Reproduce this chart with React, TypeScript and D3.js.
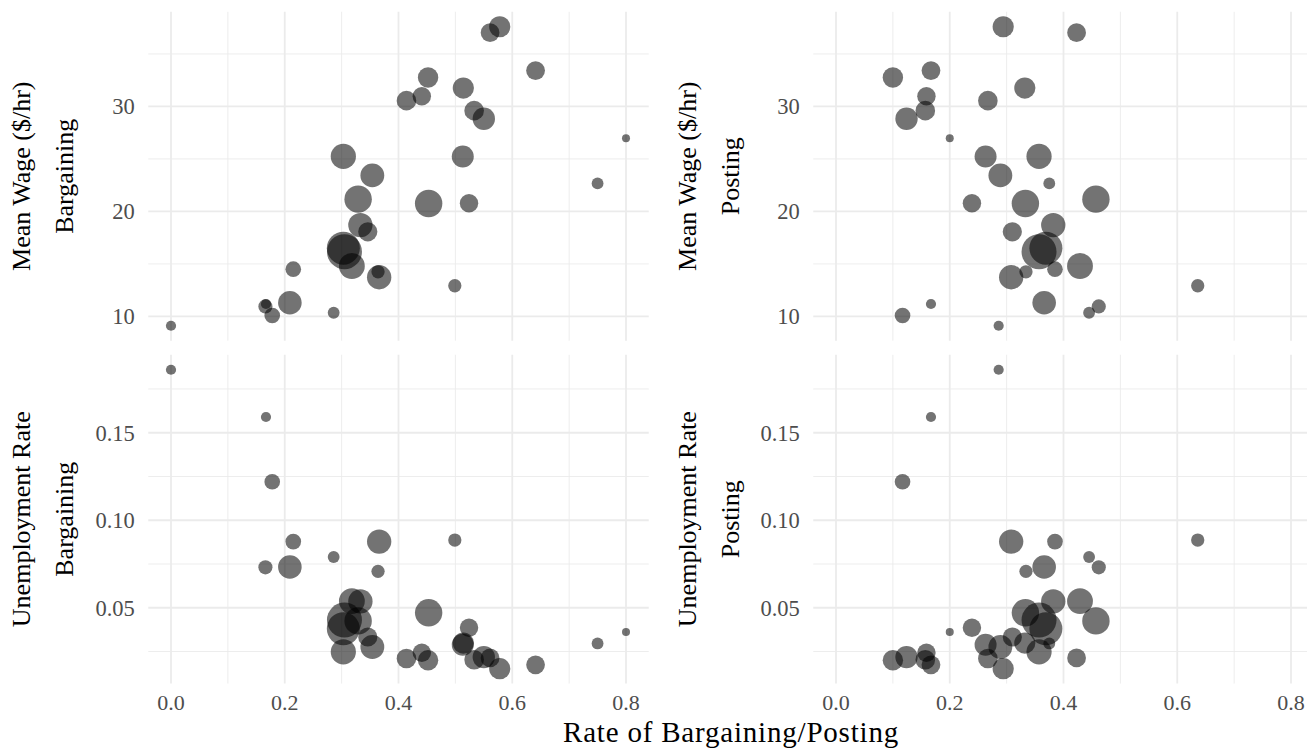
import React from 'react';
import * as d3 from 'd3';

// one entry per market, same order in every array
const bargainRate = [0.000, 0.178, 0.286, 0.166, 0.167, 0.209, 0.499, 0.366, 0.364, 0.215, 0.318, 0.305, 0.303, 0.346, 0.333, 0.524,
  0.453, 0.329, 0.750, 0.354, 0.303, 0.513, 0.800, 0.550, 0.533, 0.414, 0.441, 0.514, 0.452, 0.641, 0.561, 0.578];
const postRate = [0.286, 0.117, 0.445, 0.462, 0.167, 0.366, 0.636, 0.308, 0.334, 0.385, 0.429, 0.357, 0.369, 0.310, 0.382, 0.239,
  0.333, 0.457, 0.375, 0.289, 0.357, 0.263, 0.200, 0.124, 0.157, 0.267, 0.159, 0.332, 0.100, 0.167, 0.423, 0.294];
const meanWage = [9.11, 10.09, 10.35, 10.95, 11.18, 11.3, 12.92, 13.73, 14.25, 14.5, 14.8, 16.16, 16.5, 18.06, 18.7, 20.78,
  20.76, 21.17, 22.67, 23.43, 25.24, 25.24, 26.97, 28.83, 29.6, 30.55, 30.97, 31.75, 32.75, 33.42, 37.02, 37.59];
const unempRate = [0.186, 0.122, 0.079, 0.0731, 0.159, 0.0733, 0.0887, 0.0878, 0.0708, 0.0878, 0.0538, 0.043, 0.038, 0.0333, 0.0536, 0.0386,
  0.0471, 0.0425, 0.0296, 0.0276, 0.0248, 0.0289, 0.0361, 0.0218, 0.0203, 0.021, 0.0243, 0.0298, 0.020, 0.0174, 0.0213, 0.0152];
const workers = [26, 61, 35, 50, 26, 139, 44, 148, 44, 61, 167, 306, 272, 92, 148, 85,
  188, 188, 35, 142, 159, 121, 16, 125, 96, 96, 85, 112, 104, 88, 88, 112];

const xTicks = [0, 0.2, 0.4, 0.6, 0.8];
const xMinor = [0.1, 0.3, 0.5, 0.7];
const wageTicks = [10, 20, 30];
const wageMinor = [15, 25, 35];
const unempTicks = [0.05, 0.1, 0.15];
const unempMinor = [0.025, 0.075, 0.125, 0.175];

const W = 1307, H = 750;
const FONT = '"Liberation Serif", "Times New Roman", serif';
const GRID = '#ebebeb';

// ggplot-style 5% expansion
function expand(ext: [number, number]): [number, number] {
  const pad = (ext[1] - ext[0]) * 0.05;
  return [ext[0] - pad, ext[1] + pad];
}

const xDom = expand(d3.extent(bargainRate) as [number, number]);
const wageDom = expand(d3.extent(meanWage) as [number, number]);
const unempDom = expand(d3.extent(unempRate) as [number, number]);

const cols = [
  { x0: 148.25, x1: 648.75, xs: bargainRate, name: 'Bargaining', t1: 30, t2: 73 },
  { x0: 813.25, x1: 1313.75, xs: postRate, name: 'Posting', t1: 695.5, t2: 738.5 },
];
const rows = [
  { y0: 11.8, y1: 340.7, ys: meanWage, dom: wageDom, ticks: wageTicks, minor: wageMinor, title: 'Mean Wage ($/hr)', fmt: d3.format('d'), bottom: false },
  { y0: 354.8, y1: 683.6, ys: unempRate, dom: unempDom, ticks: unempTicks, minor: unempMinor, title: 'Unemployment Rate', fmt: d3.format('.2f'), bottom: true },
];

const r = d3.scaleSqrt().domain([0, d3.max(workers) as number]).range([0, 17.5]);

function Panel({ col, row }: any) {
  const x = d3.scaleLinear().domain(xDom).range([col.x0, col.x1]);
  const y = d3.scaleLinear().domain(row.dom).range([row.y1, row.y0]);
  const cy = (row.y0 + row.y1) / 2;
  const right = Math.min(col.x1, W);
  const clipId = 'clip-' + col.name + (row.bottom ? 'b' : 't');
  return (
    <g>
      <defs>
        <clipPath id={clipId}>
          <rect x={col.x0} y={row.y0} width={col.x1 - col.x0} height={row.y1 - row.y0} />
        </clipPath>
      </defs>
      {row.minor.map((v: number) => (
        <line key={'hm' + v} x1={col.x0} x2={right} y1={y(v)} y2={y(v)} stroke={GRID} strokeWidth={0.9} />
      ))}
      {xMinor.map((v) => (
        <line key={'vm' + v} x1={x(v)} x2={x(v)} y1={row.y0} y2={row.y1} stroke={GRID} strokeWidth={0.9} />
      ))}
      {row.ticks.map((v: number) => (
        <line key={'h' + v} x1={col.x0} x2={right} y1={y(v)} y2={y(v)} stroke={GRID} strokeWidth={1.8} />
      ))}
      {xTicks.map((v) => (
        <line key={'v' + v} x1={x(v)} x2={x(v)} y1={row.y0} y2={row.y1} stroke={GRID} strokeWidth={1.8} />
      ))}
      <g clipPath={`url(#${clipId})`}>
        {col.xs.map((v: number, i: number) => (
          <circle key={i} cx={x(v)} cy={y(row.ys[i])} r={r(workers[i])} fill="#000" fillOpacity={0.55} />
        ))}
      </g>
      {row.ticks.map((v: number) => (
        <text key={'yt' + v} x={col.x0 - 13.5} y={y(v)} dy="0.35em" textAnchor="end" fontSize={22.5} fill="#4d4d4d">
          {row.fmt(v)}
        </text>
      ))}
      {row.bottom && xTicks.map((v) => (
        <text key={'xt' + v} x={x(v)} y={710} textAnchor="middle" fontSize={22} fill="#4d4d4d">
          {d3.format('.1f')(v)}
        </text>
      ))}
      <text transform={`translate(${col.t1},${cy}) rotate(-90)`} textAnchor="middle" fontSize={26} fill="#000">
        {row.title}
      </text>
      <text transform={`translate(${col.t2},${cy}) rotate(-90)`} textAnchor="middle" fontSize={26} fill="#000">
        {col.name}
      </text>
    </g>
  );
}

export default function App() {
  return (
    <svg width={W} height={H} style={{ position: 'absolute', left: 0, top: 0, display: 'block', background: '#fff' }} fontFamily={FONT}>
      <rect width={W} height={H} fill="#fff" />
      {rows.map((row, ri) => cols.map((col, ci) => <Panel key={ri + '-' + ci} col={col} row={row} />))}
      <text x={(cols[0].x0 + cols[1].x1) / 2} y={742} textAnchor="middle" fontSize={29} letterSpacing={0.8} fill="#000">
        Rate of Bargaining/Posting
      </text>
    </svg>
  );
}
